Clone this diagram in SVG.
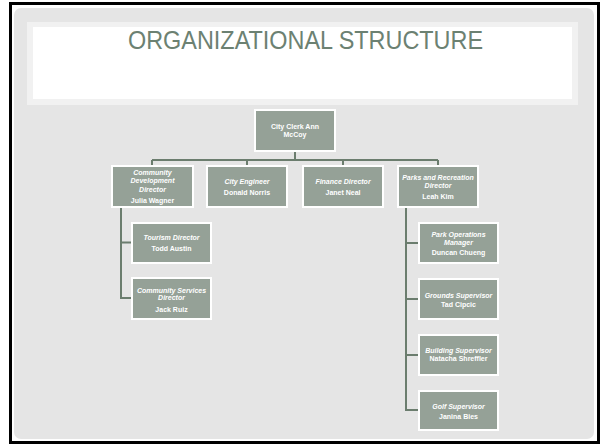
<svg xmlns="http://www.w3.org/2000/svg" width="605" height="445" viewBox="0 0 605 445">
<style>
.box{fill:#95a197;stroke:#ffffff;stroke-width:2}
.t{font-family:"Liberation Sans",Arial,sans-serif;font-size:7px;font-weight:bold;fill:#ffffff;text-anchor:middle}
.i{font-style:italic}
.c{fill:none;stroke:#6b7d6e;stroke-width:2}
</style>
<rect x="0" y="0" width="605" height="445" fill="#ffffff"/>
<rect x="10.5" y="3.5" width="588" height="439" fill="#ffffff" stroke="#000000" stroke-width="3"/>
<rect x="14" y="8" width="580" height="431" rx="7" fill="#e5e5e5"/>
<rect x="27" y="22" width="551" height="83" fill="#f1f1f1"/>
<rect x="33" y="27" width="539" height="72" fill="#ffffff"/>
<text x="305.5" y="49" font-family="'Liberation Sans',Arial,sans-serif" font-size="26" fill="#6c8172" text-anchor="middle" textLength="355" lengthAdjust="spacingAndGlyphs">ORGANIZATIONAL STRUCTURE</text>
<g id="connectors">
<path class="c" d="M295 151V160M152 160H438M152 160V166M247 160V166M343 160V166M438 160V166"/>
<path class="c" d="M121 207V298H132M121 242.5H132"/>
<path class="c" d="M406 207V410H419M406 243H419M406 299H419M406 355H419"/>
</g>
<g id="n-clerk"><rect class="box" x="255" y="110" width="80" height="41"/><text class="t" x="295" y="129">City Clerk Ann</text><text class="t" x="295" y="137">McCoy</text></g>
<g id="n-community"><rect class="box" x="112" y="166" width="81" height="41"/><text class="t i" x="152.5" y="174.5">Community</text><text class="t i" x="152.5" y="183">Development</text><text class="t i" x="152.5" y="191.5">Director</text><text class="t" x="152.5" y="202.5">Julia Wagner</text></g>
<g id="n-engineer"><rect class="box" x="207" y="166" width="80" height="41"/><text class="t i" x="247" y="184">City Engineer</text><text class="t" x="247" y="194.5">Donald Norris</text></g>
<g id="n-finance"><rect class="box" x="303" y="166" width="80" height="41"/><text class="t i" x="343" y="184">Finance Director</text><text class="t" x="343" y="194.5">Janet Neal</text></g>
<g id="n-parks"><rect class="box" x="398" y="166" width="80" height="41"/><text class="t i" x="438" y="179.5">Parks and Recreation</text><text class="t i" x="438" y="188">Director</text><text class="t" x="438" y="199">Leah Kim</text></g>
<g id="n-tourism"><rect class="box" x="132" y="223" width="79" height="40"/><text class="t i" x="171.5" y="240">Tourism Director</text><text class="t" x="171.5" y="250.5">Todd Austin</text></g>
<g id="n-commserv"><rect class="box" x="132" y="278" width="79" height="41"/><text class="t i" x="171.5" y="292.5">Community Services</text><text class="t i" x="171.5" y="300">Director</text><text class="t" x="171.5" y="311.5">Jack Ruiz</text></g>
<g id="n-parkops"><rect class="box" x="419" y="223" width="79" height="40"/><text class="t i" x="458.5" y="236.5">Park Operations</text><text class="t i" x="458.5" y="244.5">Manager</text><text class="t" x="458.5" y="255">Duncan Chueng</text></g>
<g id="n-grounds"><rect class="box" x="419" y="279" width="79" height="40"/><text class="t i" x="458.5" y="297.5">Grounds Supervisor</text><text class="t" x="458.5" y="306.5">Tad Cipcic</text></g>
<g id="n-building"><rect class="box" x="419" y="335" width="79" height="40"/><text class="t i" x="458.5" y="352.5">Building Supervisor</text><text class="t" x="458.5" y="360.5">Natacha Shreffler</text></g>
<g id="n-golf"><rect class="box" x="419" y="391" width="79" height="39"/><text class="t i" x="458.5" y="409">Golf Supervisor</text><text class="t" x="458.5" y="418.5">Janina Bies</text></g>
</svg>
